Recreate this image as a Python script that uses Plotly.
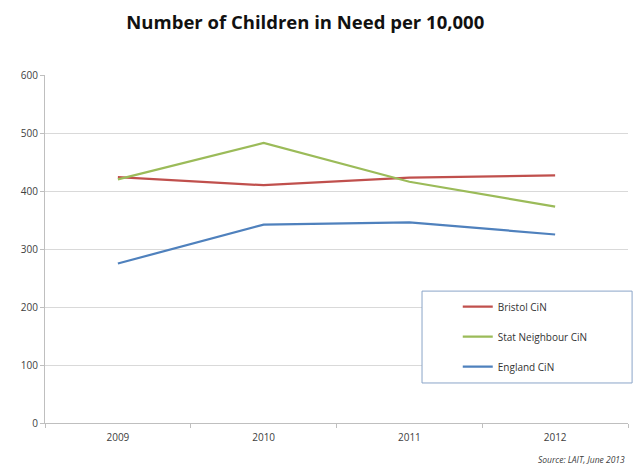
import plotly.graph_objects as go

years = ["2009", "2010", "2011", "2012"]
bristol = [424, 410, 423, 427]
stat_neighbour = [420, 483, 416, 373]
england = [275, 342, 346, 325]

series = [
    ("Bristol CiN", bristol, "#C0504D"),
    ("Stat Neighbour CiN", stat_neighbour, "#9BBB59"),
    ("England CiN", england, "#4F81BD"),
]

fig = go.Figure()
for i, (name, vals, color) in enumerate(series):
    fig.add_trace(go.Scatter(
        x=years, y=vals, name=name, mode="lines",
        line=dict(color=color, width=2.2),
        legendgroup=f"g{i}",
    ))

# legend frame drawn as a shape so it can be wider than the entries
fig.add_shape(
    type="rect", xref="paper", yref="paper",
    x0=0.6467, x1=1.007, y0=0.115, y1=0.379,
    line=dict(color="#8AA4C8", width=1), fillcolor="white", layer="above",
)

fig.update_layout(
    width=640, height=468,
    margin=dict(l=45, r=12, t=75, b=45),
    paper_bgcolor="white", plot_bgcolor="white",
    font=dict(family="Open Sans, DejaVu Sans, sans-serif", color="#404040", size=10),
    title=dict(
        text="<b>Number of Children in Need per 10,000</b>",
        x=0.477, xanchor="center", y=0.952, yanchor="middle",
        font=dict(size=18.5, color="#111111", family="Open Sans, sans-serif"),
    ),
    showlegend=True,
    legend=dict(
        x=0.708, y=0.376, xanchor="left", yanchor="top",
        borderwidth=0, bgcolor="rgba(0,0,0,0)",
        font=dict(size=10, color="#333333"),
        tracegroupgap=11, itemwidth=30,
    ),
    xaxis=dict(
        type="category", showgrid=False, showline=True, linecolor="#BFBFBF",
        ticks="outside", tickson="boundaries", ticklen=4, tickcolor="#BFBFBF",
        ticklabelstandoff=5,
        tickfont=dict(size=10, color="#404040"), range=[-0.5, 3.5],
    ),
    yaxis=dict(
        range=[0, 600], dtick=100, showgrid=True, gridcolor="#D9D9D9",
        showline=True, linecolor="#BFBFBF", ticks="outside", ticklen=4,
        tickcolor="#BFBFBF", zeroline=False, tickfont=dict(size=10, color="#404040"),
    ),
    annotations=[dict(
        text="<i>Source: LAIT, June 2013</i>", xref="paper", yref="paper",
        x=0.998, y=-0.105, xanchor="right", yanchor="middle", showarrow=False,
        font=dict(size=8.5, color="#404040"),
    )],
)

fig.write_html("out.html")
